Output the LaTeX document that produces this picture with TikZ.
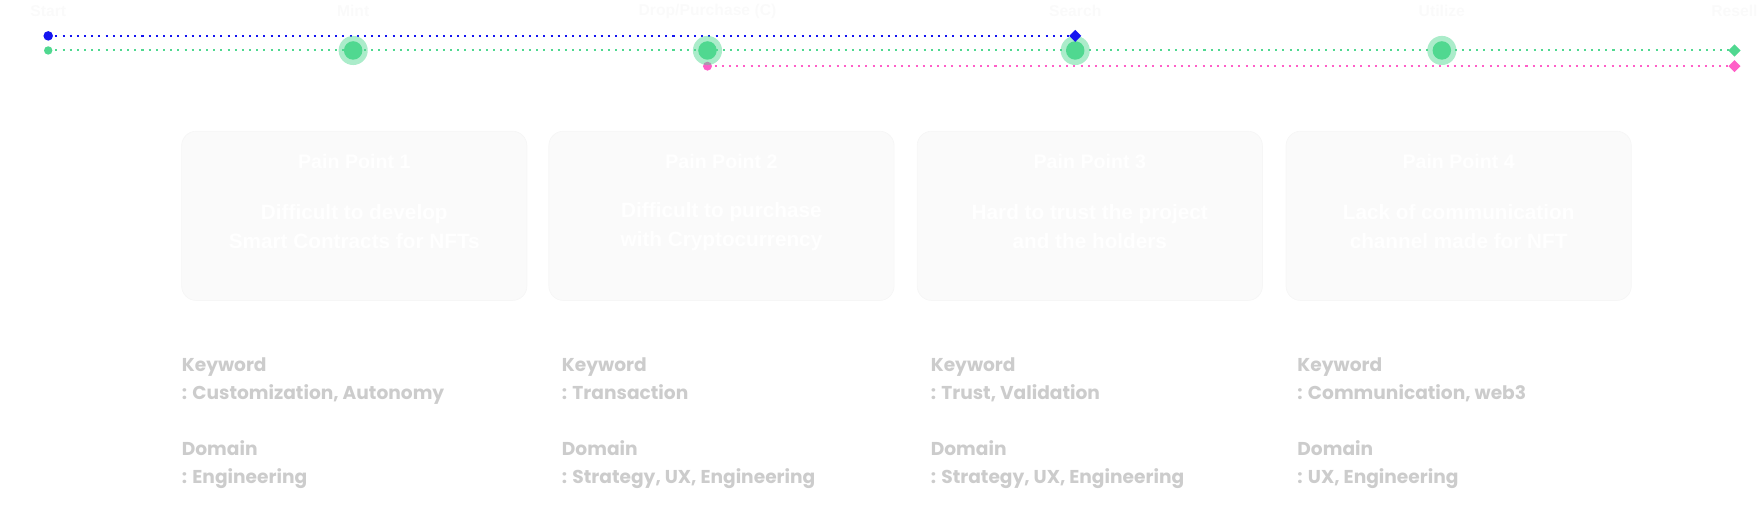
\documentclass[tikz,border=0pt]{standalone}
\usepackage{fontspec}
\setmainfont{Liberation Sans}
\newfontfamily\kwfont{Poppins}
\usetikzlibrary{shapes.geometric}
\definecolor{cblue}{HTML}{1414F0}
\definecolor{cgreen}{HTML}{50D890}
\definecolor{cpink}{HTML}{FF5FC8}
\definecolor{boxfill}{HTML}{FAFAFA}
\definecolor{boxedge}{HTML}{F6F6F6}
\definecolor{kwgray}{HTML}{CCCCCC}
\definecolor{toplbl}{HTML}{FAFAFA}
\begin{document}
\begin{tikzpicture}[x=1pt,y=-1pt,
  track/.style={line width=1.8pt, dash pattern=on 1.8pt off 4.6pt},
  startdot/.style={circle, fill=#1, inner sep=0pt, minimum size=8.5pt},
  enddia/.style={diamond, fill=#1, inner sep=0pt, minimum size=11pt},
  halo/.style={circle, fill=cgreen, fill opacity=0.48, minimum size=26pt, inner sep=0pt},
  stage/.style={circle, fill=cgreen, minimum size=16.5pt, inner sep=0pt},
  toplabel/.style={text=toplbl, font=\bfseries\fontsize{14}{16}\selectfont},
  painbox/.style={fill=boxfill, draw=boxedge, line width=0.6pt, rounded corners=13pt, minimum width=308pt, minimum height=151pt, inner sep=0pt},
  paintitle/.style={text=white, font=\bfseries\fontsize{17.5}{20}\selectfont},
  painbody/.style={text=white, align=center, font=\bfseries\fontsize{18.5}{26}\selectfont},
  kw/.style={text=kwgray, anchor=base west, inner sep=0pt, font=\kwfont\bfseries\fontsize{16.6}{20}\selectfont}
]
\useasboundingbox (0,0) rectangle (1568,456);

% top labels
\node[toplabel] (lstart) at (43,10) {Start};
\node[toplabel] (lmint) at (315,10) {Mint};
\node[toplabel] (ldrop) at (631,10) {Drop/Purchase (C)};
\node[toplabel] (lsearch) at (959,10) {Search};
\node[toplabel] (lutil) at (1286,10) {Utilize};
\node[toplabel] (lresell) at (1547,10) {Resell};

% track endpoints
\coordinate (bs) at (43,32);
\coordinate (be) at (959,32);
\coordinate (gs) at (43,45);
\coordinate (ge) at (1547,45);
\coordinate (ps) at (631,59);
\coordinate (pe) at (1547,59);

\draw[track, cblue] (bs) -- (be);
\draw[track, cgreen] (gs) -- (ge);
\draw[track, cpink] (ps) -- (pe);

\node[startdot=cblue] (bdot) at (bs) {};
\node[startdot=cgreen, minimum size=7.5pt] (gdot) at (gs) {};
\node[startdot=cpink, minimum size=8pt] (pdot) at (ps) {};
\node[enddia=cgreen] (gdia) at (ge) {};
\node[enddia=cpink] (pdia) at (pe) {};

\node[halo] (h1) at (315,45) {};
\node[halo] (h2) at (631,45) {};
\node[halo] (h3) at (959,45) {};
\node[halo] (h4) at (1286,45) {};
\node[stage] (s1) at (h1) {};
\node[stage] (s2) at (h2) {};
\node[stage] (s3) at (h3) {};
\node[stage] (s4) at (h4) {};
\node[enddia=cblue] (bdia) at (be) {};

% pain point boxes
\node[painbox] (box1) at (316,192.5) {};
\node[painbox] (box2) at (643.5,192.5) {};
\node[painbox] (box3) at (972,192.5) {};
\node[painbox] (box4) at (1301,192.5) {};

\node[paintitle] (t1) at (box1.center |- 0,144) {Pain Point 1};
\node[paintitle] (t2) at (box2.center |- 0,144) {Pain Point 2};
\node[paintitle] (t3) at (box3.center |- 0,144) {Pain Point 3};
\node[paintitle] (t4) at (box4.center |- 0,144) {Pain Point 4};

\node[painbody] (d1) at (box1.center |- 0,202) {Difficult to develop\\Smart Contracts for NFTs};
\node[painbody] (d2) at (box2.center |- 0,202) {Difficult to purchase\\with Cryptocurrency};
\node[painbody] (d3) at (box3.center |- 0,202) {Hard to trust the project\\and the holders};
\node[painbody] (d4) at (box4.center |- 0,202) {Lack of communication\\channel made for NFT};

% keywords and domains
\node[kw] (k1a) at (162,331) {Keyword};
\node[kw] (k1b) at (162,356) {: Customization, Autonomy};
\node[kw] (k1c) at (162,406) {Domain};
\node[kw] (k1d) at (162,431) {: Engineering};

\node[kw] (k2a) at (501,331) {Keyword};
\node[kw] (k2b) at (501,356) {: Transaction};
\node[kw] (k2c) at (501,406) {Domain};
\node[kw] (k2d) at (501,431) {: Strategy, UX, Engineering};

\node[kw] (k3a) at (830,331) {Keyword};
\node[kw] (k3b) at (830,356) {: Trust, Validation};
\node[kw] (k3c) at (830,406) {Domain};
\node[kw] (k3d) at (830,431) {: Strategy, UX, Engineering};

\node[kw] (k4a) at (1157,331) {Keyword};
\node[kw] (k4b) at (1157,356) {: Communication, web3};
\node[kw] (k4c) at (1157,406) {Domain};
\node[kw] (k4d) at (1157,431) {: UX, Engineering};
\end{tikzpicture}
\end{document}
